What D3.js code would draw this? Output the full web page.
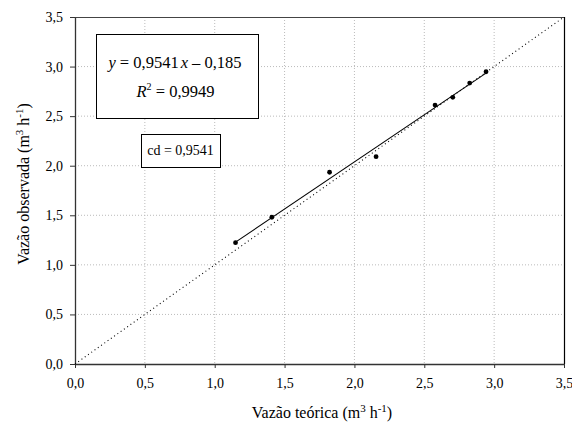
<!DOCTYPE html>
<html><head><meta charset="utf-8">
<script src="https://cdn.jsdelivr.net/npm/d3@7"></script>
</head><body style="margin:0;background:#fff"><svg id="c" width="572" height="423" style="display:block"></svg>
<script>
const obsX = [1.149,1.409,1.822,2.155,2.577,2.704,2.825,2.942];
const obsY = [1.224,1.480,1.934,2.091,2.612,2.690,2.834,2.948];
const ticks = [0,0.5,1,1.5,2,2.5,3,3.5];
const eqLine1 = ["y", " = 0,9541", "x", " – 0,185"];
const eqLine2 = "0,9949";
const cdText = "cd = 0,9541";

const FONT = "'Liberation Serif'";
const svg = d3.select("#c");
const L=75,R=564,T=17,B=364;
const x = d3.scaleLinear().domain([0,3.5]).range([L,R]);
const y = d3.scaleLinear().domain([0,3.5]).range([B,T]);
const fmt = d=>d.toFixed(1).replace(".",",");

// grid
svg.append("g").selectAll("line").data(ticks.slice(1,-1)).join("line")
  .attr("x1",d=>x(d)).attr("x2",d=>x(d)).attr("y1",T).attr("y2",B)
  .attr("stroke","#bbb").attr("stroke-dasharray","1,2");
svg.append("g").selectAll("line").data(ticks.slice(1,-1)).join("line")
  .attr("y1",d=>y(d)).attr("y2",d=>y(d)).attr("x1",L).attr("x2",R)
  .attr("stroke","#bbb").attr("stroke-dasharray","1,2");
// frame
svg.append("line").attr("x1",L).attr("x2",R).attr("y1",T+0.5).attr("y2",T+0.5).attr("stroke","#444").attr("stroke-width",1.2);
svg.append("line").attr("x1",R+0.5).attr("x2",R+0.5).attr("y1",T).attr("y2",B).attr("stroke","#000").attr("stroke-width",1.2);

// axes
const xa = svg.append("g").attr("transform",`translate(0,${B})`)
  .call(d3.axisBottom(x).tickValues(ticks).tickFormat(fmt).tickSize(4).tickPadding(10).tickSizeOuter(0));
const ya = svg.append("g").attr("transform",`translate(${L},0)`)
  .call(d3.axisLeft(y).tickValues(ticks).tickFormat(fmt).tickSize(5).tickPadding(7).tickSizeOuter(0));
[xa,ya].forEach(a=>{a.attr("font-family",null).attr("font-size",null);
  a.select(".domain").attr("stroke","#333").attr("stroke-width",1.3);
  a.selectAll(".tick line").attr("stroke","#333");
  a.selectAll("text").style("font-size","14px").style("font-family",FONT).attr("fill","#000");});

// 1:1 line
svg.append("line").attr("x1",x(0)).attr("y1",y(0)).attr("x2",x(3.5)).attr("y2",y(3.5))
  .attr("stroke","#000").attr("stroke-dasharray","1,3").attr("stroke-width",1.1);

// regression line from data
const mx=d3.mean(obsX), my=d3.mean(obsY);
const b=d3.sum(obsX.map((v,i)=>(v-mx)*(obsY[i]-my)))/d3.sum(obsX.map(v=>(v-mx)*(v-mx)));
const a=my-b*mx;
const x0=d3.min(obsX), x1=d3.max(obsX);
svg.append("line").attr("x1",x(x0)).attr("y1",y(a+b*x0)).attr("x2",x(x1)).attr("y2",y(a+b*x1))
  .attr("stroke","#000").attr("stroke-width",1.1);

svg.append("g").selectAll("circle").data(obsX.map((v,i)=>[v,obsY[i]])).join("circle")
  .attr("cx",d=>x(d[0])).attr("cy",d=>y(d[1])).attr("r",2.4).attr("fill","#000");

function txt(sel){ return sel.append("text").style("font-family",FONT).attr("fill","#000"); }

// equation box
svg.append("rect").attr("x",96.5).attr("y",34.5).attr("width",162).attr("height",84)
  .attr("fill","#fff").attr("stroke","#000");
const t1 = txt(svg).attr("x",175).attr("y",68).attr("text-anchor","middle").style("font-size","16.5px");
eqLine1.forEach((s,i)=>t1.append("tspan").style("font-style",i%2===0?"italic":"normal").attr("dx",i===2?2:0).text(s));
const t2 = txt(svg).attr("x",175.5).attr("y",97).attr("text-anchor","middle").style("font-size","16.5px");
t2.append("tspan").style("font-style","italic").text("R");
t2.append("tspan").style("font-size","10px").attr("dy",-7).text("2");
t2.append("tspan").attr("dy",7).text(" = "+eqLine2);

// cd box
svg.append("rect").attr("x",141.5).attr("y",134.5).attr("width",79).attr("height",33)
  .attr("fill","#fff").attr("stroke","#000");
txt(svg).attr("x",180.5).attr("y",155).attr("text-anchor","middle").style("font-size","14px").text(cdText);

// axis titles
function title(t, s){
  t.append("tspan").text(s);
  t.append("tspan").style("font-size","11px").attr("dy",-6).text("3");
  t.append("tspan").attr("dy",6).text(" h");
  t.append("tspan").style("font-size","11px").attr("dy",-6).text("-1");
  t.append("tspan").attr("dy",6).text(")");
}
title(txt(svg).attr("x",322).attr("y",418).attr("text-anchor","middle").style("font-size","16px"), "Vazão teórica (m");
title(txt(svg).attr("transform","translate(29,184) rotate(-90)").attr("text-anchor","middle").style("font-size","16px"), "Vazão observada (m");
</script></body></html>
